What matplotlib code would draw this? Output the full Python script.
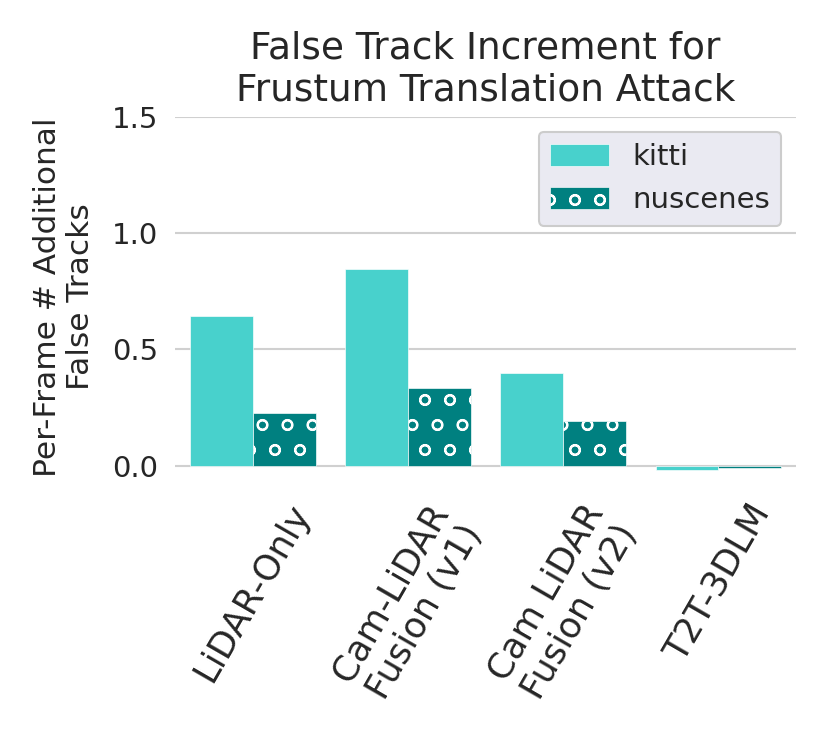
import matplotlib
matplotlib.use("Agg")
import matplotlib.pyplot as plt
import numpy as np

# ── Data ───────────────────────────────────────────────────────────────────────
categories = ["LiDAR-Only", "Cam-LiDAR\nFusion (v1)", "Cam LiDAR\nFusion (v2)", "T2T-3DLM"]
kitti = [0.642, 0.845, 0.400, -0.018]
nuscenes = [0.224, 0.332, 0.190, -0.012]
series_names = ["kitti", "nuscenes"]
yticks = [0.0, 0.5, 1.0, 1.5]

# ── Style ──────────────────────────────────────────────────────────────────────
plt.rcParams.update({
    "font.family": "DejaVu Sans",
    "text.color": "#262626",
    "axes.labelcolor": "#262626",
    "xtick.color": "#262626",
    "ytick.color": "#262626",
    "hatch.linewidth": 1.0,
})

fig = plt.figure(figsize=(830 / 150, 755 / 150), dpi=150)
ax = fig.add_axes([0.211, 0.368, 0.748, 0.477])

x = np.arange(len(categories))
w = 0.405
ax.bar(x - w / 2, kitti, w, color="#48D1CC", edgecolor="white", linewidth=0.3,
       label=series_names[0], zorder=2)
ax.bar(x + w / 2, nuscenes, w, color="#008080", edgecolor="white", linewidth=0.3,
       hatch="o", label=series_names[1], zorder=2)

ax.set_xlim(-0.5, 3.5)
ax.set_ylim(-0.05, 1.5)
ax.set_yticks(yticks)
ax.set_yticklabels([f"{t:.1f}" for t in yticks], fontsize=14)
ax.set_xticks(x)
ax.set_xticklabels(categories, rotation=60, ha="center", fontsize=17)
ax.tick_params(axis="y", length=0, pad=8)
ax.tick_params(axis="x", length=0, pad=10)
ax.grid(axis="y", color="#d0d0d0", linewidth=1.0, zorder=0)
for s in ax.spines.values():
    s.set_visible(False)

ax.set_ylabel("Per-Frame # Additional\nFalse Tracks", fontsize=15, labelpad=8)
ax.set_title("False Track Increment for\nFrustum Translation Attack", fontsize=18, pad=8)

leg = ax.legend(loc="upper right", fontsize=14, facecolor="#EAEAF2",
                edgecolor="#cccccc", framealpha=1.0, handlelength=2.0,
                handleheight=0.8)

fig.savefig("out.png", dpi=150)
